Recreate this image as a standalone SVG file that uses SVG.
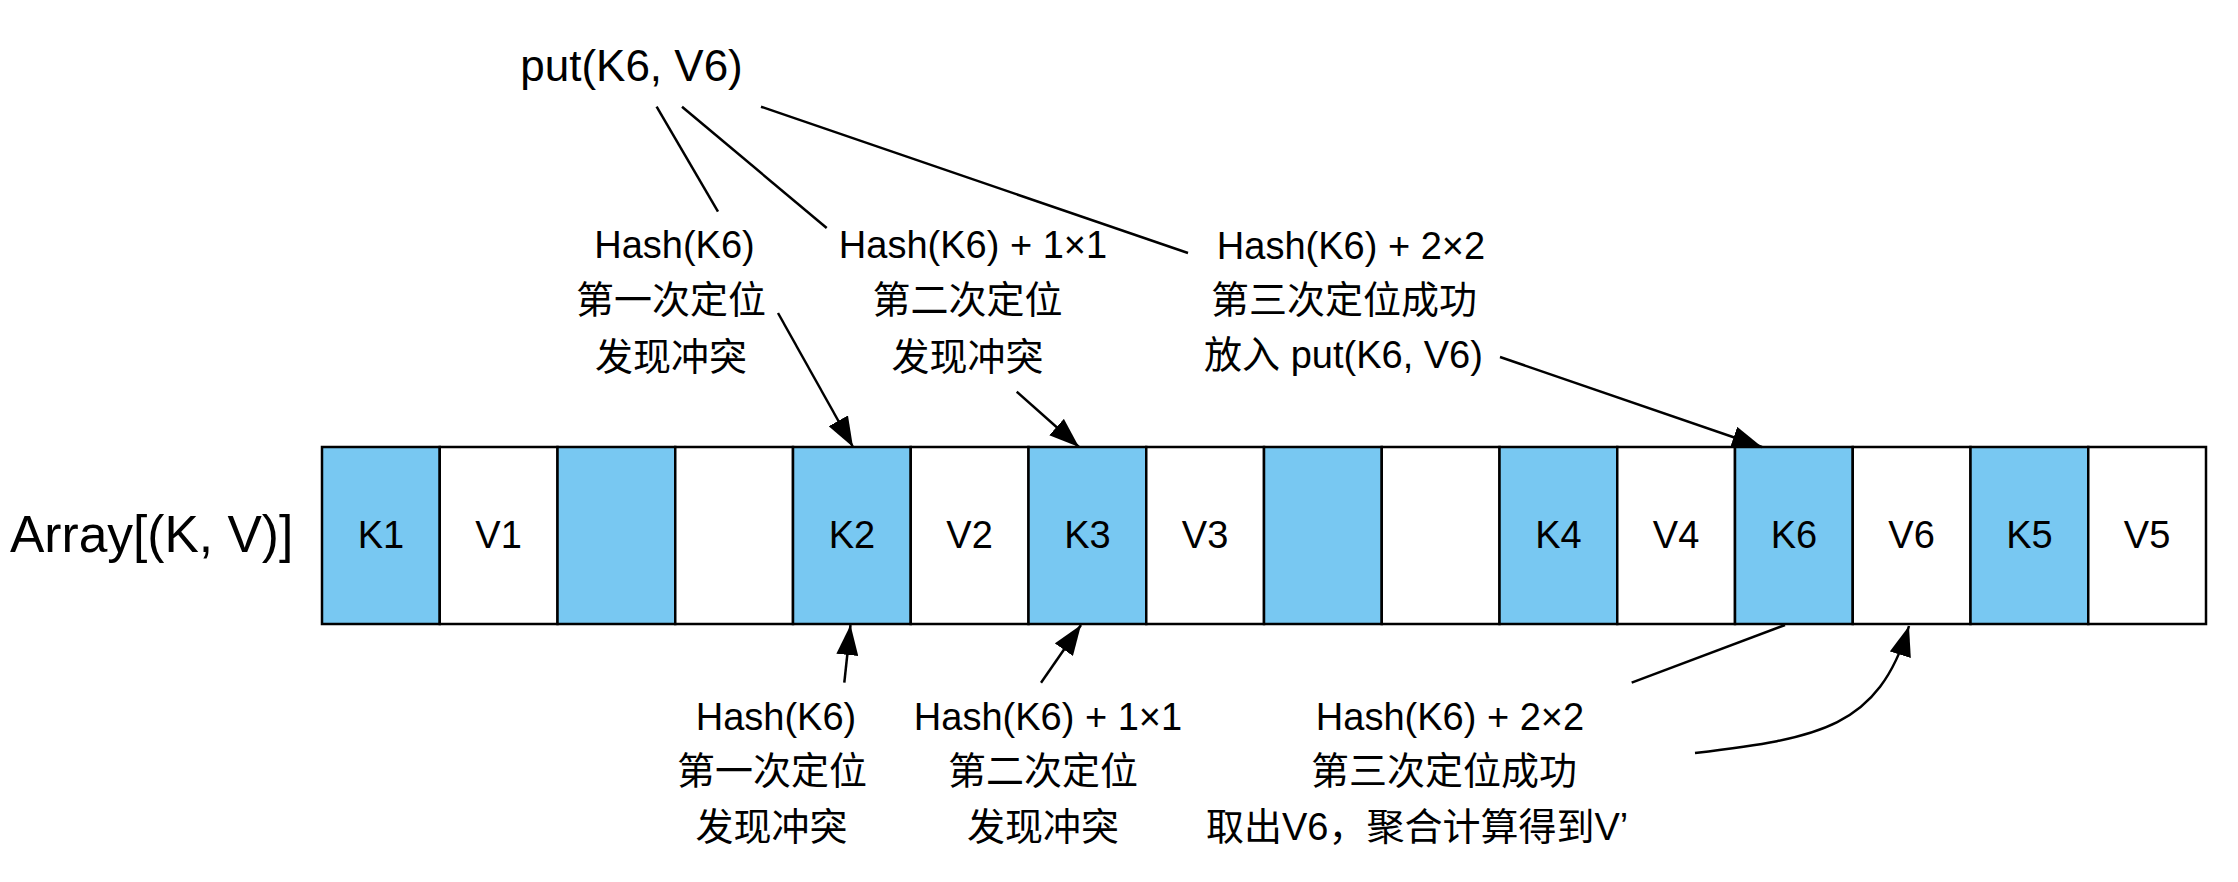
<svg xmlns="http://www.w3.org/2000/svg" width="2238" height="882" viewBox="0 0 2238 882">
<style>
text{font-family:"Liberation Sans","Noto Sans CJK SC",Arial,sans-serif;fill:#000;}
.t{font-size:38px;text-anchor:middle;}
.cell-k{fill:#78C8F2;stroke:#000;stroke-width:2.5;}
.cell-v{fill:#fff;stroke:#000;stroke-width:2.5;}
.ln{fill:none;stroke:#000;stroke-width:2.5;}
</style>
<defs>
<marker id="arr" markerUnits="userSpaceOnUse" viewBox="0 0 30 22" refX="30" refY="11" markerWidth="30" markerHeight="22" orient="auto">
<path d="M0,0 L30,11 L0,22 Z" fill="#000"/>
</marker>
</defs>
<rect width="2238" height="882" fill="#fff"/>

<g id="array-label"><text x="10" y="552" style="font-size:51.5px">Array[(K, V)]</text></g>

<g id="array">
<g id="c0"><rect class="cell-k" x="322" y="447" width="117.75" height="177"/><text class="t" x="380.9" y="548">K1</text></g>
<g id="c1"><rect class="cell-v" x="439.75" y="447" width="117.75" height="177"/><text class="t" x="498.6" y="548">V1</text></g>
<g id="c2"><rect class="cell-k" x="557.5" y="447" width="117.75" height="177"/></g>
<g id="c3"><rect class="cell-v" x="675.25" y="447" width="117.75" height="177"/></g>
<g id="c4"><rect class="cell-k" x="793" y="447" width="117.75" height="177"/><text class="t" x="851.9" y="548">K2</text></g>
<g id="c5"><rect class="cell-v" x="910.75" y="447" width="117.75" height="177"/><text class="t" x="969.6" y="548">V2</text></g>
<g id="c6"><rect class="cell-k" x="1028.5" y="447" width="117.75" height="177"/><text class="t" x="1087.4" y="548">K3</text></g>
<g id="c7"><rect class="cell-v" x="1146.25" y="447" width="117.75" height="177"/><text class="t" x="1205.1" y="548">V3</text></g>
<g id="c8"><rect class="cell-k" x="1264" y="447" width="117.75" height="177"/></g>
<g id="c9"><rect class="cell-v" x="1381.75" y="447" width="117.75" height="177"/></g>
<g id="c10"><rect class="cell-k" x="1499.5" y="447" width="117.75" height="177"/><text class="t" x="1558.4" y="548">K4</text></g>
<g id="c11"><rect class="cell-v" x="1617.25" y="447" width="117.75" height="177"/><text class="t" x="1676.1" y="548">V4</text></g>
<g id="c12"><rect class="cell-k" x="1735" y="447" width="117.75" height="177"/><text class="t" x="1793.9" y="548">K6</text></g>
<g id="c13"><rect class="cell-v" x="1852.75" y="447" width="117.75" height="177"/><text class="t" x="1911.6" y="548">V6</text></g>
<g id="c14"><rect class="cell-k" x="1970.5" y="447" width="117.75" height="177"/><text class="t" x="2029.4" y="548">K5</text></g>
<g id="c15"><rect class="cell-v" x="2088.25" y="447" width="117.75" height="177"/><text class="t" x="2147.1" y="548">V5</text></g>
</g>

<g id="put"><text class="t" x="631.5" y="81" style="font-size:44px">put(K6, V6)</text></g>

<g id="top1">
<text class="t" x="674.5" y="258">Hash(K6)</text>
<text class="t" x="671" y="313">第一次定位</text>
<text class="t" x="671" y="370">发现冲突</text>
</g>
<g id="top2">
<text class="t" x="973" y="258">Hash(K6) + 1×1</text>
<text class="t" x="967.5" y="313">第二次定位</text>
<text class="t" x="967.5" y="370">发现冲突</text>
</g>
<g id="top3">
<text class="t" x="1351" y="259">Hash(K6) + 2×2</text>
<text class="t" x="1344" y="313">第三次定位成功</text>
<text class="t" x="1343.5" y="368">放入 put(K6, V6)</text>
</g>

<g id="bot1">
<text class="t" x="776" y="730">Hash(K6)</text>
<text class="t" x="772" y="784">第一次定位</text>
<text class="t" x="771.5" y="840">发现冲突</text>
</g>
<g id="bot2">
<text class="t" x="1048" y="730">Hash(K6) + 1×1</text>
<text class="t" x="1043" y="784">第二次定位</text>
<text class="t" x="1043" y="840">发现冲突</text>
</g>
<g id="bot3">
<text class="t" x="1450" y="730">Hash(K6) + 2×2</text>
<text class="t" x="1444" y="784">第三次定位成功</text>
<text x="1206" y="840" style="font-size:38px">取出V6，聚合计算得到V’</text>
</g>

<g id="connectors">
<line class="ln" x1="656.6" y1="106.7" x2="718" y2="211.7"/>
<line class="ln" x1="682" y1="106.7" x2="826.7" y2="228"/>
<line class="ln" x1="761" y1="106.7" x2="1188" y2="253"/>
<line class="ln" x1="778" y1="313" x2="853" y2="447" marker-end="url(#arr)"/>
<line class="ln" x1="1016.7" y1="391.7" x2="1079" y2="447" marker-end="url(#arr)"/>
<line class="ln" x1="1500" y1="357" x2="1762" y2="447" marker-end="url(#arr)"/>
<line class="ln" x1="844.3" y1="682.7" x2="850.5" y2="625" marker-end="url(#arr)"/>
<line class="ln" x1="1041" y1="682.7" x2="1081" y2="625" marker-end="url(#arr)"/>
<line class="ln" x1="1785" y1="625" x2="1631.7" y2="682.7"/>
<path class="ln" d="M1695,753 C1820,738 1878,728 1909,626" marker-end="url(#arr)"/>
</g>
</svg>
